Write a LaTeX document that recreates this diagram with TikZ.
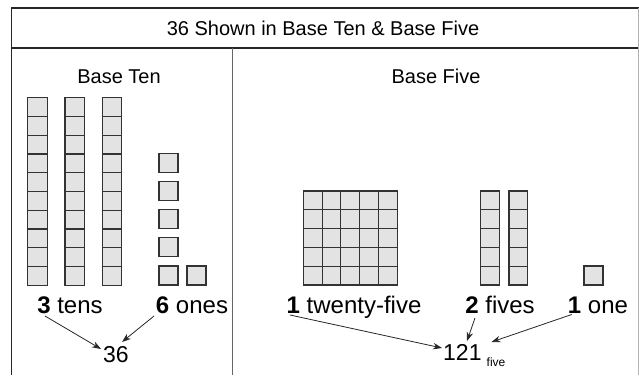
\documentclass[tikz,border=0pt]{standalone}
\usepackage{fontspec}
\setmainfont{Liberation Sans}
\usetikzlibrary{arrows.meta}
\tikzset{
  cell/.style={draw=black!80, fill=black!11, line width=1.1pt},
  lbl/.style={inner sep=0pt, anchor=base, font=\fontsize{24}{28}\selectfont},
  num/.style={inner sep=0pt, anchor=base, font=\fontsize{23}{27}\selectfont},
  ttl/.style={inner sep=0pt, anchor=base, font=\fontsize{20}{24}\selectfont},
  arr/.style={draw=black!85, line width=0.8pt, -{Stealth[length=9pt,width=6.5pt]}},
  frame/.style={draw=black!85, line width=1.3pt},
}
\begin{document}
\begin{tikzpicture}[x=1pt,y=-1pt]
\useasboundingbox (0,0) rectangle (639,375);
% frame
\draw[frame] (11.7,375) -- (11.7,8) -- (639,8);
\draw[frame] (11.7,48) -- (639,48);
\draw[draw=black!30, line width=1pt] (638.5,8) -- (638.5,375);
\draw[draw=black!60, line width=1.4pt] (232.7,48) -- (232.7,375);
% titles
\node[ttl] (title) at (323,35.5) {36 Shown in Base Ten \& Base Five};
\node[ttl] (bten) at (119,83) {Base Ten};
\node[ttl] (bfive) at (436,83) {Base Five};
% ten rods
\foreach \x in {27.7,65,102.3}{
  \foreach \k in {0,...,9}{
    \draw[cell] (\x,97.7+\k*18.75) rectangle ++(19.5,18.75);
  }
}
% ones (base ten)
\foreach \k in {0,...,4}{
  \draw[cell] (159,266-\k*28.1) rectangle ++(19,19);
}
\draw[cell] (187,266) rectangle ++(19,19);
% flat (base five)
\foreach \i in {0,...,4}{
  \foreach \j in {0,...,4}{
    \draw[cell] (303.3+\i*18.8,191+\j*18.8) rectangle ++(18.8,18.8);
  }
}
% fives rods
\foreach \x in {480.7,509}{
  \foreach \j in {0,...,4}{
    \draw[cell] (\x,191+\j*18.8) rectangle ++(18.8,18.8);
  }
}
% one
\draw[cell] (584,266) rectangle ++(19,19);
% labels
\node[lbl] (tens) at (70,313) {\textbf{3} tens};
\node[lbl] (ones) at (192,313) {\textbf{6} ones};
\node[num] (n36) at (116,362) {36};
\node[lbl] (tf) at (354,313) {\textbf{1} twenty-five};
\node[lbl] (fives) at (500,313) {\textbf{2} fives};
\node[lbl] (onel) at (598,313) {\textbf{1} one};
\node[num, anchor=base west] (n121) at (443,360) {121};
\node[inner sep=0pt, anchor=base west, font=\fontsize{12}{14}\selectfont] (sub) at (486.5,366) {five};
% arrow ends
\coordinate (s3) at (45,316);
\coordinate (e3) at (101,349);
\coordinate (s6) at (154,316);
\coordinate (e6) at (122,342);
\coordinate (s1a) at (290,315);
\coordinate (e1a) at (442,348);
\coordinate (s2) at (475,318);
\coordinate (e2) at (467,341);
\coordinate (s1b) at (571.7,314.5);
\coordinate (e1b) at (491.5,342);
\draw[arr] (s3) -- (e3);
\draw[arr] (s6) -- (e6);
\draw[arr] (s1a) -- (e1a);
\draw[arr] (s2) -- (e2);
\draw[arr] (s1b) -- (e1b);
\end{tikzpicture}
\end{document}
